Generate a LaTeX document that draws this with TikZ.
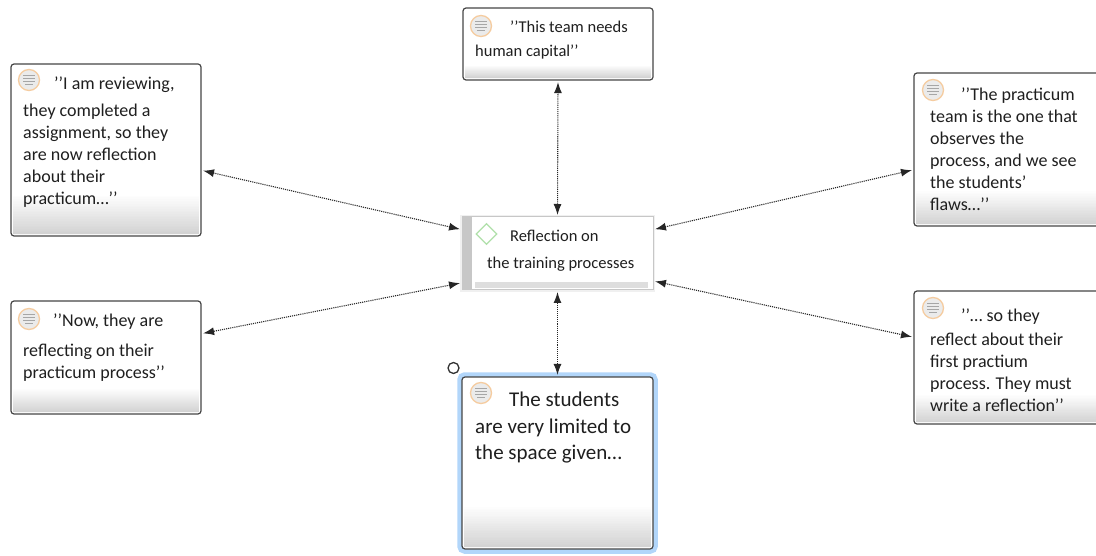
\documentclass[tikz,border=0pt]{standalone}
\usepackage{fontspec}
\setmainfont{Carlito}
\usetikzlibrary{calc,shapes.geometric,arrows.meta}
\definecolor{notegrey}{RGB}{70,70,70}
\definecolor{noteorange}{RGB}{245,204,160}
\definecolor{haloblue}{RGB}{178,214,250}
\definecolor{diamondgreen}{RGB}{176,224,170}
\tikzset{
	quotebox/.style 2 args={draw=notegrey, line width=1.2pt, rounded corners=3pt, fill=white, inner sep=0pt, minimum width=#1, path picture={
		\foreach \s in {1,...,24}{
			\pgfmathsetmacro\stripgrey{18*\s/24}
			\fill[sharp corners, black!\stripgrey] ($(path picture bounding box.south west)+(2,{-2-(#2-2)*(24-\s)/24})$) rectangle ($(path picture bounding box.south east)+(-2,-2)$);
		}}},
	quotetext/.style={anchor=north west, inner sep=0pt, align=left, text=black!88, font=\fontsize{18}{22}\selectfont},
	noteicon/.style={circle, draw=noteorange, line width=1.3pt, fill=black!8, inner sep=0pt, minimum size=21, path picture={
		\draw[black!35, line width=1pt] ($(path picture bounding box.center)+(-6,-4.5)$) -- ++(12,0)
			($(path picture bounding box.center)+(-6,-1.5)$) -- ++(12,0)
			($(path picture bounding box.center)+(-6,1.5)$) -- ++(12,0)
			($(path picture bounding box.center)+(-4,4.5)$) -- ++(8,0);}},
	linkarrow/.style={densely dotted, line width=1.1pt, black!85, shorten <=1.5pt, shorten >=1.5pt, {Latex[length=11pt,width=8pt]}-{Latex[length=11pt,width=8pt]}},
}

\begin{document}
\begin{tikzpicture}[x=1pt, y=-1pt]
	\useasboundingbox (0, 0) rectangle (1096, 556);

	% boxes
	\node[quotebox={190}{15}, minimum height=72] (top) at (558, 44) {};
	\node[quotebox={190}{42}, minimum height=172] (lefta) at (106, 150) {};
	\node[quotebox={190}{26}, minimum height=113] (leftb) at (106, 357.5) {};
	\node[quotebox={190}{36}, minimum height=153] (righta) at (1009, 149.5) {};
	\node[quotebox={190}{30}, minimum height=133] (rightb) at (1009, 357.5) {};

	% selected box
	\node[quotebox={191}{44}, minimum height=172, preaction={draw=haloblue, line width=9.5pt}] (bottom) at (557.5, 463) {};
	\node[circle, draw=black!80, line width=1.3pt, fill=white, inner sep=0pt, minimum size=11] (handle) at (453.5, 368) {};

	% centre box
	\node[draw=black!22, line width=1pt, fill=white, inner sep=0pt, minimum width=191, minimum height=73, preaction={draw=black!6, line width=3.5pt}] (centre) at (557.5, 253.5) {};
	\node[fill=black!22, inner sep=0pt, minimum width=10, minimum height=72] (centrebar) at (467, 253.5) {};
	\node[fill=black!13, inner sep=0pt, minimum width=173, minimum height=6] (centrefoot) at (561.5, 285) {};
	\node[diamond, draw=diamondgreen, line width=1.2pt, inner sep=0pt, minimum size=21] (centremark) at (486.5, 234) {};

	% icons
	\node[noteicon] (topicon) at (481, 26) {};
	\node[noteicon] (leftaicon) at (29, 80) {};
	\node[noteicon] (leftbicon) at (29, 319) {};
	\node[noteicon] (rightaicon) at (933, 90) {};
	\node[noteicon] (rightbicon) at (933, 308) {};
	\node[noteicon] (bottomicon) at (481, 393) {};

	% quotes
	\node[quotetext, font=\fontsize{16.5}{24}\selectfont] (toptext) at (475, 21) {\hspace{35pt}’’This team needs\\human capital’’};
	\node[quotetext] (leftatext) at (23, 77) {\hspace{31pt}’’I am reviewing,\\[5pt]they completed a\\assignment, so they\\are now reflection\\about their\\practicum…’’};
	\node[quotetext] (leftbtext) at (23, 314) {\hspace{30pt}’’Now, they are\\[8pt]reflecting on their\\practicum process’’};
	\node[quotetext] (rightatext) at (930, 88) {\hspace{31pt}’’The practicum\\team is the one that\\observes the\\process, and we see\\the students’\\flaws…’’};
	\node[quotetext] (rightbtext) at (930, 309) {\hspace{31pt}’’… so they\\[2pt]reflect about their\\first practium\\process. They must\\write a reflection’’};
	\node[quotetext, font=\fontsize{21}{26.5}\selectfont] (bottomtext) at (475, 392) {\hspace{34pt}The students\\are very limited to\\the space given…};
	\node[quotetext, font=\fontsize{16.5}{27}\selectfont] (centretext) at (487, 230) {\hspace{23pt}Reflection on\\the training processes};

	% links
	\draw[linkarrow] (centre.north) -- (top.south);
	\draw[linkarrow] (centre.south) -- (bottom.north);
	\draw[linkarrow] (centre.166) -- (lefta.-12);
	\draw[linkarrow] (centre.-163) -- (leftb.14);
	\draw[linkarrow] (centre.14) -- (righta.-168);
	\draw[linkarrow] (centre.-16) -- (rightb.168);
\end{tikzpicture}
\end{document}
